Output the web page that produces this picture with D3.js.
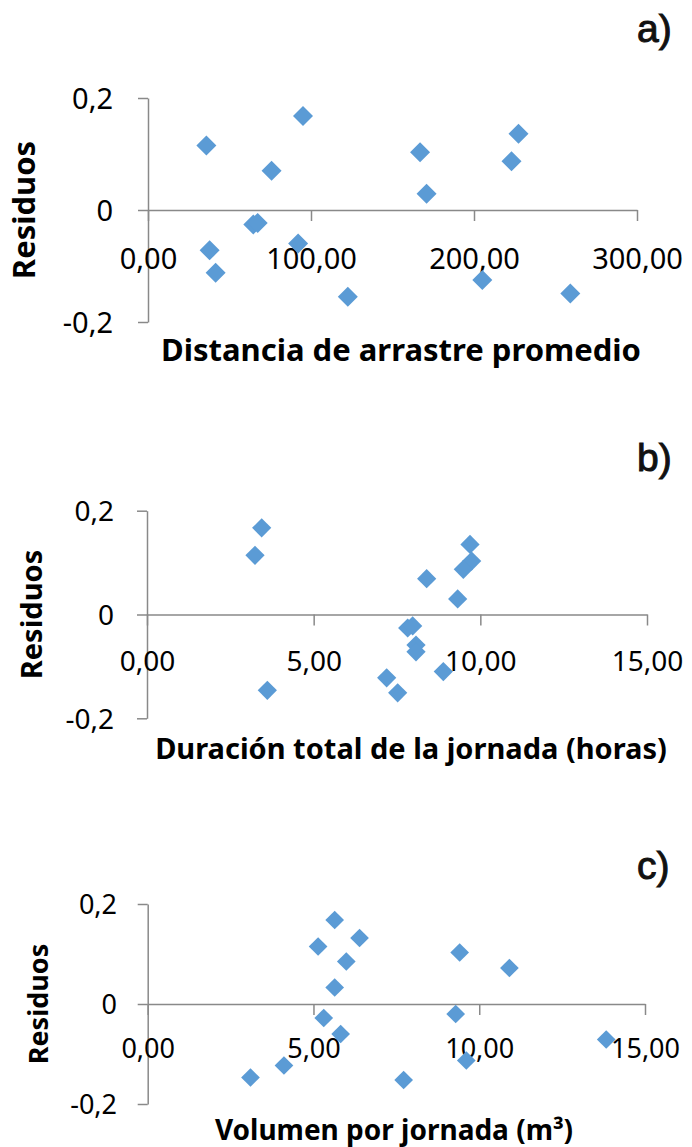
<!DOCTYPE html>
<html>
<head>
<meta charset="utf-8">
<script src="https://cdn.jsdelivr.net/npm/d3@7"></script>
<style>
  html, body { margin: 0; padding: 0; background: #fff; }
  svg { display: block; }
</style>
</head>
<body>
<svg id="chart" width="692" height="1147"></svg>
<script>
"use strict";
// residuals vs. three predictors
const residTicks = [-0.2, 0, 0.2];

// a) distancia de arrastre promedio
const distTicks = [0, 100, 200, 300];
const dist = [35.8, 37.8, 41.5, 64.6, 67.3, 75.8, 92.1, 95.1, 122.6, 166.9, 170.9, 205.1, 223.0, 227.3, 259.1];
const residDist = [0.115, -0.072, -0.112, -0.026, -0.023, 0.070, -0.060, 0.168, -0.155, 0.103, 0.029, -0.125, 0.087, 0.136, -0.149];

// b) duracion total de la jornada
const horasTicks = [0, 5, 10, 15];
const horas = [3.44, 3.24, 3.61, 9.69, 9.74, 9.49, 8.39, 9.32, 7.82, 7.97, 8.07, 8.07, 8.89, 7.19, 7.52];
const residHoras = [0.167, 0.114, -0.146, 0.135, 0.103, 0.087, 0.069, 0.030, -0.026, -0.022, -0.059, -0.072, -0.110, -0.122, -0.151];

// c) volumen por jornada
const volTicks = [0, 5, 10, 15];
const vol = [5.14, 3.10, 4.11, 5.31, 5.64, 6.39, 5.99, 5.64, 5.82, 9.41, 10.91, 9.29, 9.61, 7.72, 13.83];
const residVol = [0.115, -0.147, -0.123, -0.028, 0.168, 0.132, 0.085, 0.033, -0.060, 0.103, 0.072, -0.020, -0.113, -0.152, -0.071];

const locale = d3.formatLocale({decimal: ",", thousands: ".", grouping: [3], currency: ["", ""], minus: "-"});
const fmtX = locale.format(".2f");
const fmtY = d => d === 0 ? "0" : locale.format(".1f")(d);

const AXIS = "#898989", MARK = "#5b9bd5";
const FONT = "'Noto Sans', 'Open Sans', sans-serif";

const panels = [
  {tag: "a)", tagY: 42, title: "Distancia de arrastre promedio", titleX: 401, titleY: 361,
   xs: dist, ys: residDist, ticks: distTicks, xMax: 300,
   x0: 148, x1: 637, yTop: 98, yBot: 322, yPad: 25, xPad: 27,
   tickFs: 29, titleFs: 31, labX: 35, labFs: 31, mark: 200},
  {tag: "b)", tagY: 471, title: "Duración total de la jornada (horas)", titleX: 411, titleY: 759,
   xs: horas, ys: residHoras, ticks: horasTicks, xMax: 15,
   x0: 147, x1: 647, yTop: 510.7, yBot: 718.3, yPad: 23, xPad: 26,
   tickFs: 28, titleFs: 29, labX: 42, labFs: 29, mark: 185},
  {tag: "c)", tagY: 879, title: "Volumen por jornada (m³)", titleX: 394, titleY: 1140,
   xs: vol, ys: residVol, ticks: volTicks, xMax: 15,
   x0: 147.7, x1: 645, yTop: 904, yBot: 1104, yPad: 20.7, xPad: 24,
   tickFs: 27, titleFs: 28, labX: 48, labFs: 27, mark: 175}
];

const svg = d3.select("#chart");

panels.forEach(p => {
  const x = d3.scaleLinear().domain([0, p.xMax]).range([p.x0, p.x1]);
  const y = d3.scaleLinear().domain([-0.2, 0.2]).range([p.yBot, p.yTop]);
  const g = svg.append("g");

  //vertical axis
  const ya = g.append("g")
    .attr("transform", `translate(${x(0)},0)`)
    .call(d3.axisLeft(y).tickValues(residTicks).tickFormat(fmtY)
      .tickSize(10).tickSizeOuter(0).tickPadding(p.yPad));

  //horizontal axis crossing at zero
  const xa = g.append("g")
    .attr("transform", `translate(0,${y(0)})`)
    .call(d3.axisBottom(x).tickValues(p.ticks).tickFormat(fmtX)
      .tickSize(11).tickSizeOuter(0).tickPadding(p.xPad));

  [ya, xa].forEach(a => {
    a.attr("font-family", FONT).attr("font-size", p.tickFs);
    a.selectAll("path, line").attr("stroke", AXIS).attr("stroke-width", 1.5);
    a.selectAll("text").attr("fill", "#000");
  });
  ya.selectAll("text").attr("dy", "0.36em");

  //points
  g.append("g").selectAll("path")
    .data(p.xs.map((v, i) => [v, p.ys[i]]))
    .join("path")
    .attr("d", d3.symbol(d3.symbolSquare, p.mark))
    .attr("transform", d => `translate(${x(d[0])},${y(d[1])}) rotate(45)`)
    .attr("fill", MARK);

  g.append("text")
    .attr("x", p.titleX).attr("y", p.titleY)
    .attr("text-anchor", "middle")
    .attr("font-family", FONT).attr("font-weight", "bold").attr("font-size", p.titleFs)
    .text(p.title);

  g.append("text")
    .attr("transform", `translate(${p.labX},${y(0)}) rotate(-90)`)
    .attr("text-anchor", "middle")
    .attr("font-family", FONT).attr("font-weight", "bold").attr("font-size", p.labFs)
    .text("Residuos");

  //panel letter, a bit heavier than regular
  g.append("text")
    .attr("x", 637).attr("y", p.tagY)
    .attr("font-family", "'Liberation Sans', Arial, sans-serif")
    .attr("font-size", 39)
    .attr("fill", "#111").attr("stroke", "#111").attr("stroke-width", 1)
    .text(p.tag);
});
</script>
</body>
</html>
